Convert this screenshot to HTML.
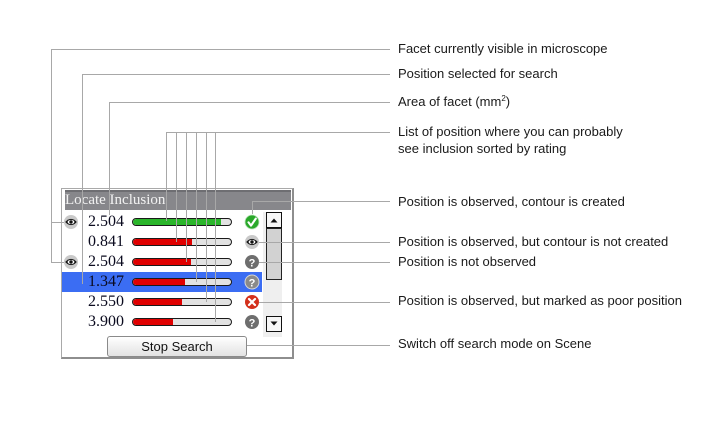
<!DOCTYPE html>
<html><head><meta charset="utf-8"><style>
html,body{margin:0;padding:0;background:#fff;}
body{width:718px;height:432px;position:relative;overflow:hidden;}
.a{position:absolute;}
.lbl{position:absolute;left:398px;font-family:"Liberation Sans",Arial,sans-serif;font-size:13px;line-height:15px;color:#1a1a1a;white-space:nowrap;}
.num{position:absolute;left:88px;font-family:"Liberation Serif","Times New Roman",serif;font-size:16px;line-height:20px;height:20px;color:#0a0a1e;}
.bar{position:absolute;left:132px;width:100px;height:8px;box-sizing:border-box;border:1px solid #1a1a1a;border-radius:4px;background:#e2e2e2;overflow:hidden;}
.bar div{height:100%;background:#e00000;border-radius:3px 0 0 3px;}
</style></head><body>

<!-- panel frame -->
<div class="a" style="left:61px;top:188px;width:233px;height:171px;box-sizing:border-box;border:1px solid #a9a9a9;border-right:2px solid #8e8e8e;border-bottom:2px solid #8e8e8e;background:#fff;"></div>
<div class="a" style="left:65px;top:190px;width:226px;height:20px;background:#87878b;box-shadow:inset 0 2px 0 #6e6e72;font-family:'Liberation Serif','Times New Roman',serif;font-size:15px;line-height:20px;color:#f2f2f2;white-space:nowrap;">Locate Inclusion</div>

<!-- selected row -->
<div class="a" style="left:62px;top:272px;width:200px;height:20px;background:#3b6df3;"></div>

<!-- scroll column -->
<div class="a" style="left:263px;top:212px;width:19px;height:125px;background:#efefef;"></div>
<div class="a" style="left:266px;top:212px;width:16px;height:16px;box-sizing:border-box;border:1px solid #111;background:#f6f6f6;"></div>
<div class="a" style="left:266px;top:228px;width:16px;height:52px;box-sizing:border-box;border:1px solid #222;background:#d2d2d2;"></div>
<div class="a" style="left:266px;top:316px;width:16px;height:16px;box-sizing:border-box;border:1px solid #111;background:#f6f6f6;"></div>

<!-- numbers -->
<div class="num" style="top:212px;">2.504</div>
<div class="num" style="top:232px;">0.841</div>
<div class="num" style="top:252px;">2.504</div>
<div class="num" style="top:272px;">1.347</div>
<div class="num" style="top:292px;">2.550</div>
<div class="num" style="top:312px;">3.900</div>

<!-- bars -->
<div class="bar" style="top:218px;"><div style="width:88px;background:#2ab52a;"></div></div>
<div class="bar" style="top:238px;"><div style="width:59px;"></div></div>
<div class="bar" style="top:258px;"><div style="width:58px;"></div></div>
<div class="bar" style="top:278px;"><div style="width:52px;"></div></div>
<div class="bar" style="top:298px;"><div style="width:49px;"></div></div>
<div class="bar" style="top:318px;"><div style="width:40px;"></div></div>

<!-- button -->
<div class="a" style="left:107px;top:336px;width:140px;height:21px;box-sizing:border-box;border:1px solid #8a8a8a;border-radius:3px;background:linear-gradient(#ffffff,#e2e2e2);font-family:'Liberation Sans',Arial,sans-serif;font-size:13px;line-height:19px;text-align:center;color:#111;">Stop Search</div>

<!-- icons + lines overlay -->
<svg class="a" style="left:0;top:0;" width="718" height="432" viewBox="0 0 718 432" xmlns="http://www.w3.org/2000/svg">
  <!-- eye icons -->
  <g id="eye1">
    <circle cx="71" cy="222" r="7" fill="#c9c9c9"/>
    <path d="M65.2,222 Q71,215.8 76.8,222 Q71,228.2 65.2,222 Z" fill="#111"/>
    <ellipse cx="71" cy="222" rx="3.4" ry="2.1" fill="#fff"/>
    <circle cx="71" cy="222" r="1.7" fill="#111"/>
  </g>
  <g>
    <circle cx="71" cy="262" r="7" fill="#c9c9c9"/>
    <path d="M65.2,262 Q71,255.8 76.8,262 Q71,268.2 65.2,262 Z" fill="#111"/>
    <ellipse cx="71" cy="262" rx="3.4" ry="2.1" fill="#fff"/>
    <circle cx="71" cy="262" r="1.7" fill="#111"/>
  </g>
  <g>
    <circle cx="252" cy="242" r="7" fill="#c9c9c9"/>
    <path d="M246.2,242 Q252,235.8 257.8,242 Q252,248.2 246.2,242 Z" fill="#111"/>
    <ellipse cx="252" cy="242" rx="3.4" ry="2.1" fill="#fff"/>
    <circle cx="252" cy="242" r="1.7" fill="#111"/>
  </g>
  <!-- check -->
  <circle cx="252" cy="222" r="7" fill="#2aa82a" stroke="#bfe6bf" stroke-width="0.8"/>
  <path d="M248.5,222.3 L251,225.6 L255.8,218.6" fill="none" stroke="#fff" stroke-width="2.1" stroke-linecap="round" stroke-linejoin="round"/>
  <!-- question icons -->
  <circle cx="252" cy="262" r="7" fill="#6e6e6e"/>
  <text x="252" y="266.3" text-anchor="middle" font-family="Liberation Sans, Arial, sans-serif" font-weight="bold" font-size="11" fill="#fff">?</text>
  <circle cx="252" cy="282" r="7" fill="#8a8a8a" stroke="#d8d8d8" stroke-width="1"/>
  <text x="252" y="286.3" text-anchor="middle" font-family="Liberation Sans, Arial, sans-serif" font-weight="bold" font-size="11" fill="#fff">?</text>
  <circle cx="252" cy="322" r="7" fill="#6e6e6e"/>
  <text x="252" y="326.3" text-anchor="middle" font-family="Liberation Sans, Arial, sans-serif" font-weight="bold" font-size="11" fill="#fff">?</text>
  <!-- red x -->
  <circle cx="252" cy="302" r="7" fill="#d3301c"/>
  <path d="M249,299 L255,305 M255,299 L249,305" stroke="#fff" stroke-width="2.2" stroke-linecap="round"/>
  <!-- scroll triangles -->
  <polygon points="270.5,222.5 277.5,222.5 274,218.5" fill="#111"/>
  <polygon points="270.5,321.5 277.5,321.5 274,325.5" fill="#111"/>

  <!-- callout lines -->
  <g fill="none" stroke="#a8a8a8" stroke-width="1">
    <path d="M390,49.5 H51.5 V262.5 H64"/>
    <path d="M51.5,222.5 H64"/>
    <path d="M390,74.5 H82.5 V284"/>
    <path d="M390,102.5 H109.5 V215"/>
    <path d="M390,132.5 H166.5 V221"/>
    <path d="M176.5,132.5 V242"/>
    <path d="M186.5,132.5 V262"/>
    <path d="M196.5,132.5 V282"/>
    <path d="M206.5,132.5 V302"/>
    <path d="M215.5,132.5 V322"/>
    <path d="M390,201.5 H252.5 V214"/>
    <path d="M259,242.5 H390"/>
    <path d="M259,262.5 H390"/>
    <path d="M259,302.5 H390"/>
    <path d="M247,345.5 H390"/>
  </g>
</svg>

<!-- labels -->
<div class="lbl" style="top:41px;">Facet currently visible in microscope</div>
<div class="lbl" style="top:66px;">Position selected for search</div>
<div class="lbl" style="top:94px;">Area of facet (mm<sup style="font-size:8px;line-height:0;vertical-align:5px;">2</sup>)</div>
<div class="lbl" style="top:123px;line-height:17px;">List of position where you can probably<br>see inclusion sorted by rating</div>
<div class="lbl" style="top:193.5px;">Position is observed, contour is created</div>
<div class="lbl" style="top:233.5px;">Position is observed, but contour is not created</div>
<div class="lbl" style="top:254px;">Position is not observed</div>
<div class="lbl" style="top:293px;">Position is observed, but marked as poor position</div>
<div class="lbl" style="top:335.5px;">Switch off search mode on Scene</div>

</body></html>
